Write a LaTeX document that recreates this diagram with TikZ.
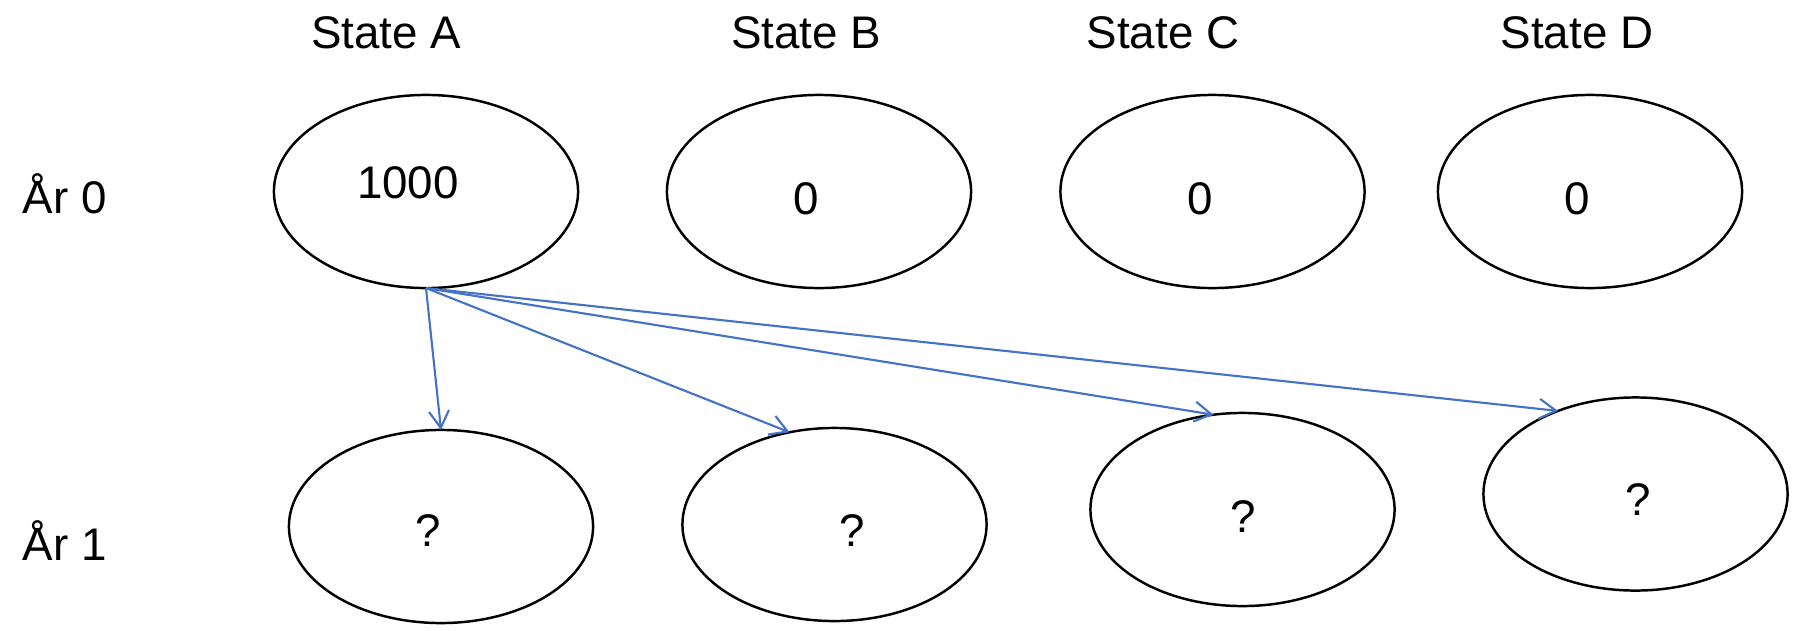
\documentclass[tikz,border=0pt]{standalone}
\usepackage{fontspec}
\setmainfont{Liberation Sans}
\usetikzlibrary{shapes,arrows.meta}
\definecolor{flowblue}{RGB}{68,114,196}

\begin{document}
\begin{tikzpicture}[
	x=0.01cm,y=-0.01cm,
	font=\fontsize{13}{15}\selectfont,
	state/.style={ellipse,draw=black,line width=0.7pt,minimum width=3.04cm,minimum height=1.93cm,inner sep=0pt,outer sep=0pt},
	val/.style={anchor=base,inner sep=0pt},
	flow/.style={draw=flowblue,line width=0.6pt,-{Straight Barb[length=0.17cm,width=0.2cm]}}
%	head/.style={anchor=base,font=\large},
	]

	\useasboundingbox (0,0) rectangle (1794,630);

	% column heads
	\node[val] (hA) at (386,48) {State A};
	\node[val] (hB) at (806,48) {State B};
	\node[val] (hC) at (1163,48) {State C};
	\node[val] (hD) at (1577,48) {State D};

	% row heads
	\node[val,anchor=base west] (y0) at (22,213) {År 0};
	\node[val,anchor=base west] (y1) at (22,560) {År 1};

	% year 0
	\node[state] (a0) at (426,191.5) {};
	\node[state] (b0) at (819,191.5) {};
	\node[state] (c0) at (1212.5,191.5) {};
	\node[state] (d0) at (1590,191.5) {};
	\node[val] (va0) at (408,198) {1000};
	\node[val] (vb0) at (806,214) {0};
	\node[val] (vc0) at (1200,214) {0};
	\node[val] (vd0) at (1577,214) {0};

	% year 1
	\node[state] (a1) at (441,526.5) {};
	\node[state] (b1) at (834.5,524.5) {};
	\node[state] (c1) at (1242.5,509.5) {};
	\node[state] (d1) at (1635.5,494) {};
	\node[val] (va1) at (428,546) {?};
	\node[val] (vb1) at (852,546) {?};
	\node[val] (vc1) at (1243,532) {?};
	\node[val] (vd1) at (1638,515) {?};

	\draw[flow] (a0.south) -- (a1.north);
	\draw[flow] (a0.south) -- (b1.116);
	\draw[flow] (a0.south) -- (c1.107);
	\draw[flow] (a0.south) -- (d1.133);

\end{tikzpicture}
\end{document}
